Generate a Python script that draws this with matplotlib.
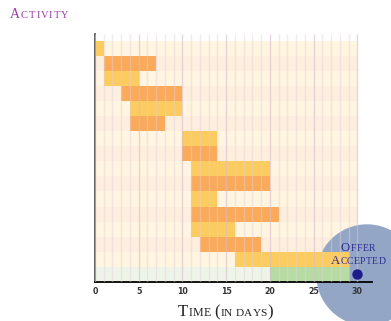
import matplotlib
matplotlib.use("Agg")
import matplotlib.pyplot as plt
from matplotlib.patches import Circle
from matplotlib.transforms import IdentityTransform

# activities, top row first (start day, end day)
starts = [0, 1, 1, 3, 4, 4, 10, 10, 11, 11, 11, 11, 11, 12, 16, 20]
ends = [1, 7, 5, 10, 10, 8, 14, 14, 20, 20, 14, 21, 16, 19, 29, 29]
kinds = ["yellow", "orange"] * 7 + ["yellow", "green"]
days = list(range(0, 31))
ticks = [0, 5, 10, 15, 20, 25, 30]
offer_day = 30

bar_col = {"yellow": "#fccc5e", "orange": "#fbaa5a", "green": "#b6dca3"}
bg_col = {"yellow": "#fff5e0", "orange": "#feeedd", "green": "#eef5e8"}

fig = plt.figure(figsize=(3.91, 3.21), dpi=100)
ax = fig.add_axes([95 / 391, 39 / 321, 277 / 391, 248 / 321])
top = 16.44
n = len(starts)

for i, (s, e, k) in enumerate(zip(starts, ends, kinds)):
    y = n - 1 - i + 0.5
    ax.barh(y, 30, left=0, height=1, color=bg_col[k], zorder=1)
    ax.barh(y, e - s, left=s, height=1, color=bar_col[k], zorder=2)

for d in days:
    if d % 5 == 0:
        ax.vlines(d, 0, top, colors="#d6bccf", lw=1.0, alpha=0.6, zorder=3)
    else:
        ax.vlines(d, 0, top, colors="#e3d0dd", lw=1.0, alpha=0.45, zorder=3)

# highlight circle, in pixels
ax.add_patch(Circle((367, 46), 50, transform=IdentityTransform(),
                    color="#93a6c6", zorder=1.2, clip_on=False))
ax.plot(offer_day, 0.5, "o", color="#1c1c8c", ms=6.5, zorder=5, clip_on=False)

ax.set_xlim(0, 31.68)
ax.set_ylim(0, top)
ax.set_xticks(ticks)
ax.set_xticklabels([str(t) for t in ticks], fontsize=5.7, fontweight="bold", color="#333333")
ax.tick_params(axis="x", length=0, pad=3.5)
ax.set_yticks([])
for sp in ["top", "right"]:
    ax.spines[sp].set_visible(False)
ax.spines["left"].set_color("#555555")
ax.spines["left"].set_linewidth(1.3)
ax.spines["bottom"].set_color("black")
ax.spines["bottom"].set_linewidth(1.3)


def caps_text(x, y, parts, color, track, center=False):
    r = fig.canvas.get_renderer()
    placed = []
    pos = 0.0
    for s, size in parts:
        for ch in s:
            if ch == " ":
                pos += size * 0.3 * fig.dpi / 72
                continue
            t = fig.text(0, y, ch, fontsize=size, family="Liberation Serif",
                         color=color, va="baseline", transform=IdentityTransform())
            w = t.get_window_extent(r).width
            placed.append((t, pos))
            pos += w + track
    total = pos - track
    x0 = x - total / 2 if center else x
    for t, p in placed:
        t.set_x(x0 + p)


caps_text(10, 303, [("A", 10), ("CTIVITY", 7.6)], "#9b3ca6", 0.9)
caps_text(225.5, 4.5, [("T", 12), ("IME", 8.6), (" ", 9.5), ("(", 12), ("IN DAYS", 8.2), (")", 12)],
          "#222222", 0.1, center=True)
caps_text(358, 70.3, [("O", 9.2), ("FFER", 6.9)], "#2a2a90", 0.5, center=True)
caps_text(358, 57, [("A", 9.2), ("CCEPTED", 6.9)], "#2a2a90", 0.4, center=True)

fig.savefig("out.png", dpi=100, facecolor="white")
